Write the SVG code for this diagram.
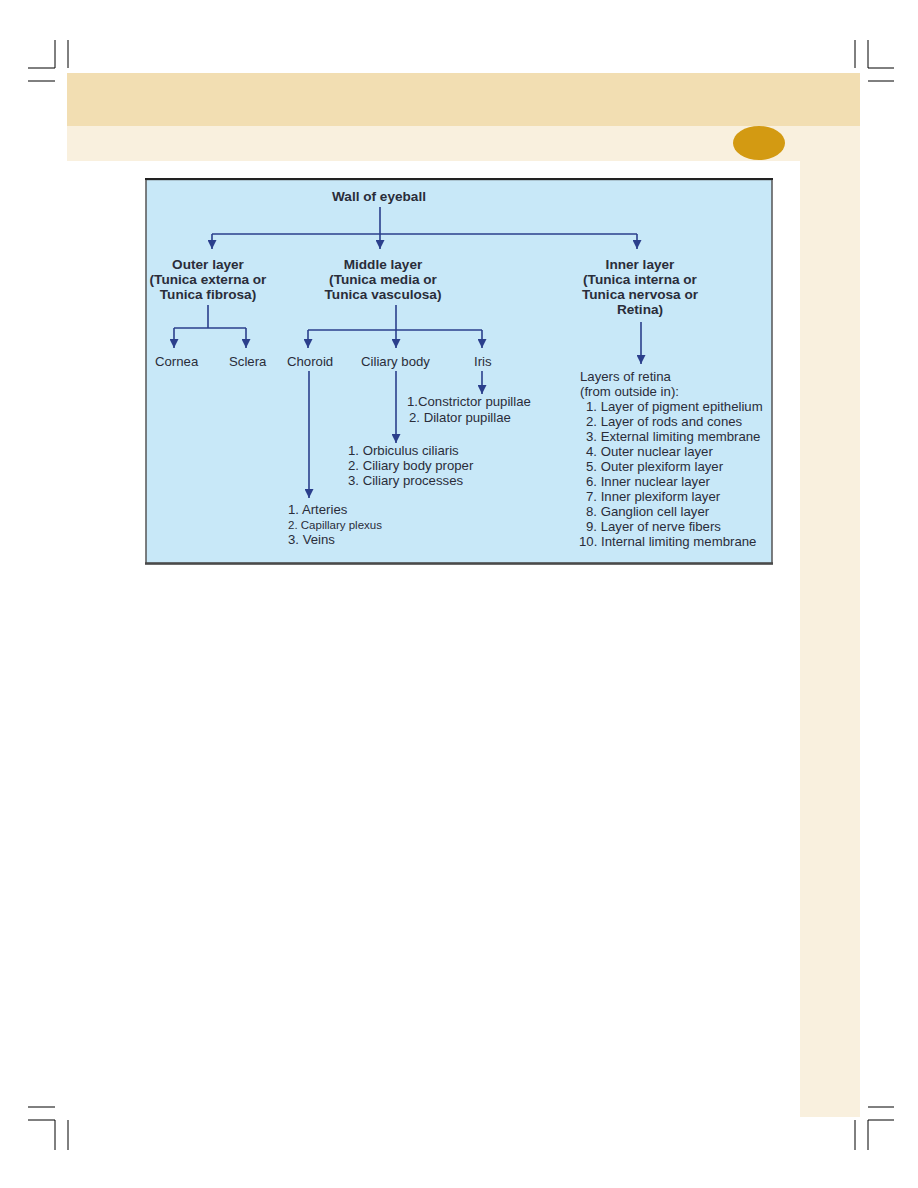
<svg xmlns="http://www.w3.org/2000/svg" width="918" height="1188" viewBox="0 0 918 1188">
<defs>
<marker id="ah" viewBox="0 0 10 10" refX="10" refY="5" markerWidth="9" markerHeight="9" markerUnits="userSpaceOnUse" orient="auto">
<path d="M0,0 L10,5 L0,10 z" fill="#2b3f8c"/>
</marker>
<style>
.crop{stroke:#000;stroke-width:1;fill:none}
.c{stroke:#2b3f8c;stroke-width:1.6;fill:none}
.a{stroke:#2b3f8c;stroke-width:1.6;fill:none}
text{font-family:"Liberation Sans",Arial,sans-serif;font-size:13.2px;fill:#2a2d3a}
.b{font-weight:bold;text-anchor:middle;font-size:13.6px}
.s{font-size:11.5px}
</style>
</defs>
<rect width="918" height="1188" fill="#fff"/>
<rect x="67" y="73" width="793" height="53" fill="#f2deb2"/>
<rect x="67" y="126" width="793" height="35" fill="#f9f0de"/>
<rect x="800" y="161" width="60" height="956" fill="#f9f0de"/>
<ellipse cx="759" cy="143" rx="26" ry="17" fill="#d39a12"/>
<g id="cropmarks">
<path class="crop" d="M55,40 V68 H28 M68,40 V68 M28,81 H55"/>
<path class="crop" d="M855,40 V68 M868,40 V68 H894 M868,81 H894"/>
<path class="crop" d="M28,1107 H55 M28,1120 H55 V1150 M68,1120 V1150"/>
<path class="crop" d="M868,1107 H894 M868,1120 H894 M868,1120 V1150 M855,1120 V1150"/>
</g>
<rect x="146" y="179.5" width="626" height="384" fill="#c8e8f8" stroke="#555" stroke-width="1.5"/>
<line x1="145" y1="563.5" x2="773" y2="563.5" stroke="#4a4a4a" stroke-width="2.5"/>
<line x1="145" y1="179" x2="773" y2="179" stroke="#222" stroke-width="1.8"/>
<g id="connectors">
<path class="c" d="M380,207 V234 M212,234 H637"/>
<path class="a" d="M212,234 V249" marker-end="url(#ah)"/>
<path class="a" d="M380,234 V249" marker-end="url(#ah)"/>
<path class="a" d="M637,234 V249" marker-end="url(#ah)"/>
<path class="c" d="M208,305 V328 M174,328 H246"/>
<path class="a" d="M174,328 V348" marker-end="url(#ah)"/>
<path class="a" d="M246,328 V348" marker-end="url(#ah)"/>
<path class="c" d="M308,330 H482"/>
<path class="a" d="M396,305 V348" marker-end="url(#ah)"/>
<path class="a" d="M308,330 V348" marker-end="url(#ah)"/>
<path class="a" d="M482,330 V348" marker-end="url(#ah)"/>
<path class="a" d="M309,371 V498" marker-end="url(#ah)"/>
<path class="a" d="M396,371 V443" marker-end="url(#ah)"/>
<path class="a" d="M482,371 V394" marker-end="url(#ah)"/>
<path class="a" d="M641,322 V364" marker-end="url(#ah)"/>
</g>
<g id="root"><text class="b" x="379" y="201">Wall of eyeball</text></g>
<g id="outer"><text class="b" x="208" y="269">Outer layer</text><text class="b" x="208" y="284">(Tunica externa or</text><text class="b" x="208" y="299">Tunica fibrosa)</text></g>
<g id="middle"><text class="b" x="383" y="269">Middle layer</text><text class="b" x="383" y="284">(Tunica media or</text><text class="b" x="383" y="299">Tunica vasculosa)</text></g>
<g id="inner"><text class="b" x="640" y="269">Inner layer</text><text class="b" x="640" y="284">(Tunica interna or</text><text class="b" x="640" y="299">Tunica nervosa or</text><text class="b" x="640" y="314">Retina)</text></g>
<g id="cornea"><text x="155" y="366">Cornea</text></g>
<g id="sclera"><text x="229" y="366">Sclera</text></g>
<g id="choroid"><text x="287" y="366">Choroid</text></g>
<g id="ciliary"><text x="361" y="366">Ciliary body</text></g>
<g id="iris"><text x="474" y="366">Iris</text></g>
<g id="iris-parts"><text x="407" y="406">1.Constrictor pupillae</text><text x="409" y="422">2. Dilator pupillae</text></g>
<g id="ciliary-parts"><text x="348" y="455">1. Orbiculus ciliaris</text><text x="348" y="470">2. Ciliary body proper</text><text x="348" y="485">3. Ciliary processes</text></g>
<g id="choroid-parts"><text x="288" y="514">1. Arteries</text><text class="s" x="288" y="529">2. Capillary plexus</text><text x="288" y="544">3. Veins</text></g>
<g id="retina-layers">
<text x="580" y="381">Layers of retina</text>
<text x="580" y="396">(from outside in):</text>
<text x="586" y="411">1. Layer of pigment epithelium</text>
<text x="586" y="426">2. Layer of rods and cones</text>
<text x="586" y="441">3. External limiting membrane</text>
<text x="586" y="456">4. Outer nuclear layer</text>
<text x="586" y="471">5. Outer plexiform layer</text>
<text x="586" y="486">6. Inner nuclear layer</text>
<text x="586" y="501">7. Inner plexiform layer</text>
<text x="586" y="516">8. Ganglion cell layer</text>
<text x="586" y="531">9. Layer of nerve fibers</text>
<text x="579" y="546">10. Internal limiting membrane</text>
</g>
</svg>
